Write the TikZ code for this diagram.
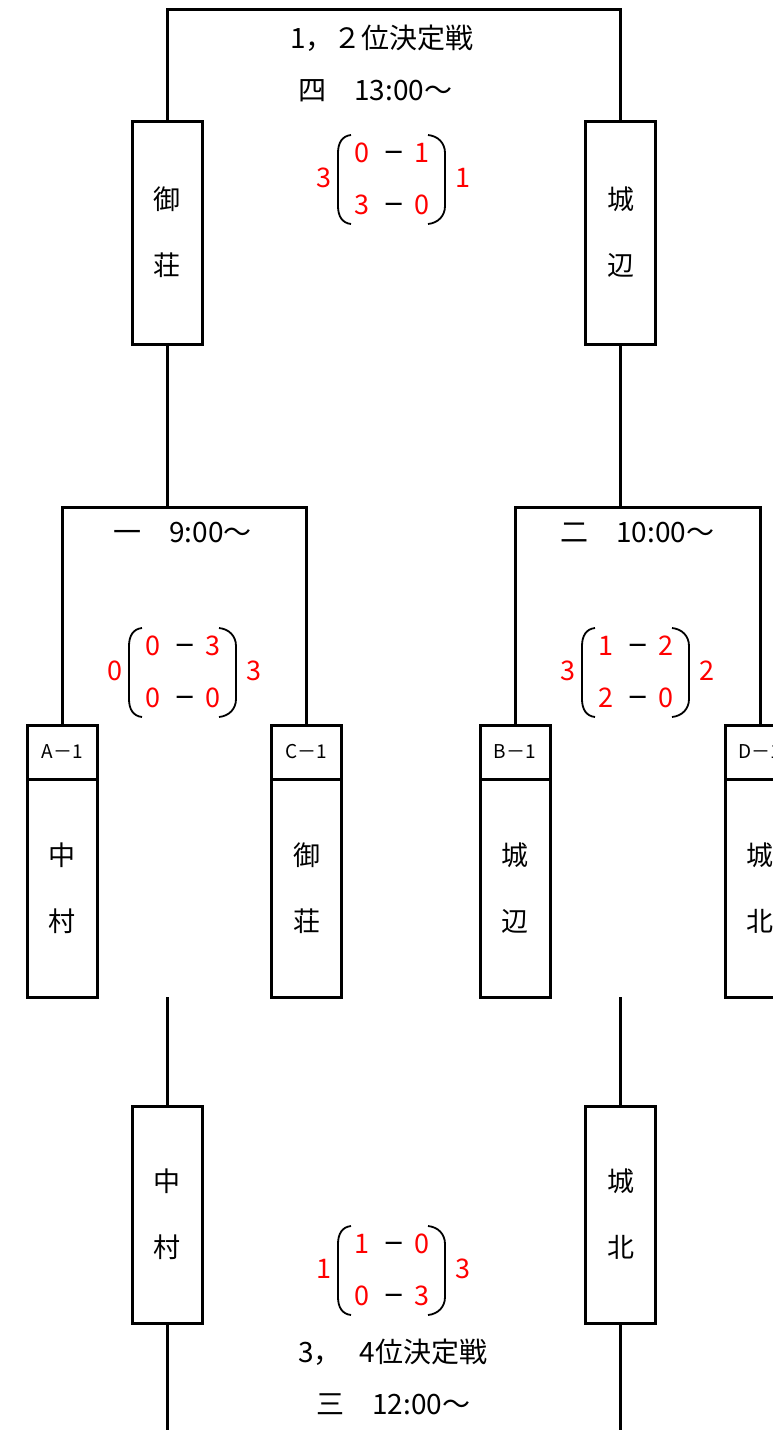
\documentclass[tikz,border=0pt]{standalone}
\usepackage{fontspec}
\setmainfont{Noto Sans CJK JP}
\newcommand\scoreset[8]{%
\begin{scope}[shift={(#2)}]
\node[sc] (#1a) at (-30,-25) {#3};
\node[dsh] (#1m) at (2,-15) {–};
\node[sc] (#1b) at (30,-25) {#4};
\node[sc] (#1c) at (-30,27) {#5};
\node[dsh] (#1n) at (2,37) {–};
\node[sc] (#1d) at (30,27) {#6};
\node[sc] (#1L) at (-68,0) {#7};
\node[sc] (#1R) at (71,0) {#8};
\draw[paren] (-41,-42) .. controls (-50,-41) and (-54,-34) .. (-54,-24) -- (-54,29) .. controls (-54,39) and (-50,46) .. (-41,47);
\draw[paren] (36,-42) .. controls (46,-41) and (53,-34) .. (53,-24) -- (53,29) .. controls (53,39) and (46,46) .. (36,47);
\end{scope}}
\begin{document}
\begin{tikzpicture}[x=1pt,y=-1pt,
  ln/.style={line width=3pt, line join=miter},
  bx/.style={draw, line width=3pt, minimum width=70pt, inner sep=0pt, outer sep=0pt},
  namebox/.style={bx, align=center, font=\fontsize{27}{66}\selectfont},
  labbox/.style={bx, minimum height=54pt, font=\fontsize{19}{22}\selectfont},
  ttl/.style={font=\fontsize{28}{32}\selectfont, inner sep=0pt, anchor=west},
  sc/.style={text=red, font=\fontsize{27}{30}\selectfont, inner sep=0pt, text height=20pt, text depth=0pt},
  dsh/.style={font=\fontsize{36}{40}\selectfont, inner sep=0pt, anchor=base},
  paren/.style={line width=1.8pt}]
\useasboundingbox (0,0) rectangle (773,1430);
\clip (0,0) rectangle (773,1430);

% titles
\node[ttl] (t12) at (290,38) {1，２位決定戦};
\node[ttl] (tm4) at (298,91) {四　13:00～};
\node[ttl] (tm1) at (113,533) {一　9:00～};
\node[ttl] (tm2) at (560,533) {二　10:00～};
\node[ttl] (t34) at (298,1352) {3，\hspace{18pt}4位決定戦};
\node[ttl] (tm3) at (316,1404) {三　12:00～};

% top boxes
\node[namebox, minimum height=223pt] (tGo) at (167,232.5) {御\\荘};
\node[namebox, minimum height=223pt] (tJo) at (620.5,232.5) {城\\辺};

% first round boxes
\node[labbox] (A1l) at (62,752) {A－1};
\node[namebox, minimum height=218pt, anchor=north] (A1n) at (A1l.south) {中\\村};
\node[labbox] (C1l) at (306.5,752) {C－1};
\node[namebox, minimum height=218pt, anchor=north] (C1n) at (C1l.south) {御\\荘};
\node[labbox] (B1l) at (515,752) {B－1};
\node[namebox, minimum height=218pt, anchor=north] (B1n) at (B1l.south) {城\\辺};
\node[labbox] (D1l) at (760,752) {D－1};
\node[namebox, minimum height=218pt, anchor=north] (D1n) at (D1l.south) {城\\北};

% lower boxes
\node[namebox, minimum height=217pt] (lNa) at (167,1214.5) {中\\村};
\node[namebox, minimum height=217pt] (lJo) at (620.5,1214.5) {城\\北};

% connectors
\coordinate (jT) at (393,9);
\draw[ln] (tGo.north) |- (jT) -| (tJo.north);
\coordinate (jL) at (167,507);
\draw[ln] (A1l.north) |- (jL) -| (C1l.north);
\draw[ln] (jL) -- (tGo.south);
\coordinate (jR) at (620.5,507);
\draw[ln] (B1l.north) |- (jR) -| (D1l.north);
\draw[ln] (jR) -- (tJo.south);
\coordinate (sL) at (167,997);
\coordinate (eL) at (167,1434);
\draw[ln] (sL) -- (lNa.north);
\draw[ln] (lNa.south) -- (eL);
\coordinate (sR) at (620.5,997);
\coordinate (eR) at (620.5,1434);
\draw[ln] (sR) -- (lJo.north);
\draw[ln] (lJo.south) -- (eR);

% scores
\scoreset{sT}{392,177}{0}{1}{3}{0}{3}{1}
\scoreset{sL}{183,670}{0}{3}{0}{0}{0}{3}
\scoreset{sR}{636,670}{1}{2}{2}{0}{3}{2}
\scoreset{sB}{392,1268}{1}{0}{0}{3}{1}{3}
\end{tikzpicture}
\end{document}
